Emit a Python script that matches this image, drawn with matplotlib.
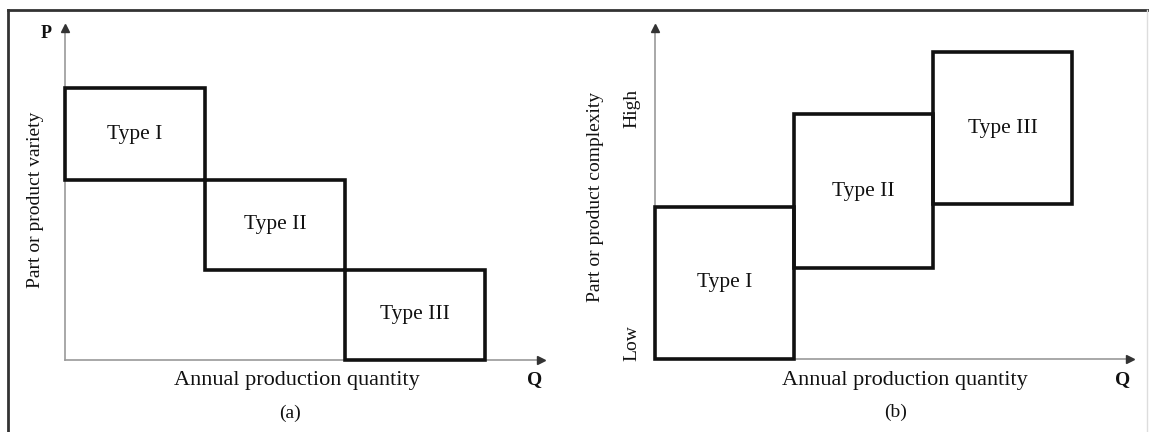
import matplotlib
matplotlib.use("Agg")
import matplotlib.pyplot as plt
import numpy as np

plt.rcParams['font.family'] = ['Liberation Serif', 'DejaVu Serif']

# ---- data ----
types = ["Type I", "Type II", "Type III"]
q_start = [0, 1, 2]            # start of each type along annual quantity
q_width = [1, 1, 1]
# panel (a): part or product variety
variety_low = [2.0, 1.0, 0.0]
variety_high = [3.02, 2.0, 1.0]
# panel (b): part or product complexity
complexity_low = [0.0, 1.01, 1.72]
complexity_high = [1.69, 2.72, 3.41]

W, H = 1149, 432
fig = plt.figure(figsize=(W / 100, H / 100), dpi=100)


def px(x, y):
    return x / W, 1 - y / H


def make_axes(x0, y0, x1, y1):
    l, b = px(x0, y0)
    r, t = px(x1, y1)
    ax = fig.add_axes([l, b, r - l, t - b])
    for s in ax.spines.values():
        s.set_visible(False)
    ax.set_xticks([])
    ax.set_yticks([])
    ax.patch.set_alpha(0)
    # axis lines with arrow heads
    ax.plot([0, 1], [0, 0], transform=ax.transAxes, color='#9a9a9a', lw=1.2, clip_on=False, zorder=1)
    ax.plot([0, 0], [0, 1], transform=ax.transAxes, color='#9a9a9a', lw=1.2, clip_on=False, zorder=1)
    ax.plot(1, 0, marker='>', ms=6, color='#333333', transform=ax.transAxes, clip_on=False)
    ax.plot(0, 1, marker='^', ms=6, color='#333333', transform=ax.transAxes, clip_on=False)
    return ax


def draw_boxes(ax, low, high, xmax, ymax):
    heights = np.array(high) - np.array(low)
    ax.bar(q_start, heights, width=q_width, bottom=low, align='edge',
           fill=False, edgecolor='#111111', linewidth=2.6, clip_on=False, zorder=3)
    for q, w, lo, hi, name in zip(q_start, q_width, low, high, types):
        ax.text(q + w / 2, (lo + hi) / 2, name, ha='center', va='center', fontsize=15.5, color='#111111')
    ax.set_xlim(0, xmax)
    ax.set_ylim(0, ymax)


# panel (a)
axa = make_axes(65, 360, 541, 28)
draw_boxes(axa, variety_low, variety_high, 476 / 140, 332 / 90)

# panel (b)
axb = make_axes(655, 359, 1130, 28)
draw_boxes(axb, complexity_low, complexity_high, 475 / 139, 331 / 90)

txt = dict(color='#111111')
fig.text(*px(46, 34), "P", ha='center', va='center', fontsize=13, fontweight='bold', **txt)
fig.text(*px(535, 380), "Q", ha='center', va='center', fontsize=14, fontweight='bold', **txt)
fig.text(*px(297, 380), "Annual production quantity", ha='center', va='center', fontsize=16, **txt)
fig.text(*px(290, 413), "(a)", ha='center', va='center', fontsize=14, **txt)
fig.text(*px(36, 200), "Part or product variety", ha='center', va='center', rotation=90, fontsize=14, **txt)

fig.text(*px(1123, 380), "Q", ha='center', va='center', fontsize=14, fontweight='bold', **txt)
fig.text(*px(905, 380), "Annual production quantity", ha='center', va='center', fontsize=16, **txt)
fig.text(*px(896, 412), "(b)", ha='center', va='center', fontsize=14, **txt)
fig.text(*px(596, 197), "Part or product complexity", ha='center', va='center', rotation=90, fontsize=14, **txt)
fig.text(*px(632, 108), "High", ha='center', va='center', rotation=90, fontsize=14, **txt)
fig.text(*px(632, 343), "Low", ha='center', va='center', rotation=90, fontsize=14, **txt)

# outer frame (top, left and faint right edges)
fig.add_artist(plt.Line2D([8 / W, 1], [1 - 10 / H, 1 - 10 / H], transform=fig.transFigure, color='#333333', lw=2))
fig.add_artist(plt.Line2D([8 / W, 8 / W], [0, 1 - 10 / H], transform=fig.transFigure, color='#333333', lw=2))
fig.add_artist(plt.Line2D([1147 / W, 1147 / W], [0, 1 - 10 / H], transform=fig.transFigure, color='#dddddd', lw=1))

fig.savefig("out.png", dpi=100)
